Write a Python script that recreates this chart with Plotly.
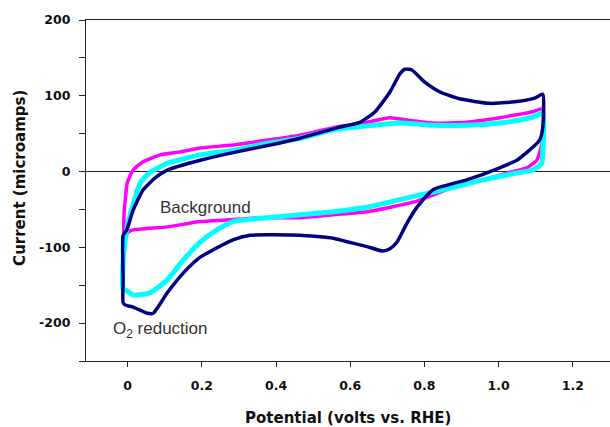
import plotly.graph_objects as go

# Navy curve (O2 reduction)
navy_x = [-0.012, -0.002, 0.015, 0.042, 0.075, 0.107, 0.196, 0.284, 0.384, 0.465, 0.567, 0.626, 0.667, 0.707, 0.734, 0.747, 0.766, 0.801, 0.842, 0.895, 0.976, 1.043, 1.097, 1.119,
          1.119, 1.111, 1.092, 1.049, 1.003, 0.914, 0.823, 0.780, 0.753, 0.726, 0.707, 0.688, 0.645, 0.586, 0.554, 0.465, 0.330, 0.284, 0.196, 0.150, 0.107, 0.069, 0.053, 0.015, -0.006, -0.012, -0.012, -0.012]
navy_y = [-84, -77, -51, -24, -8, 2, 15, 25, 35, 44, 58, 65, 79, 105, 129, 135, 134, 118, 105, 96, 90, 92, 97, 102,
          59, 42, 32, 15, 5, -11, -24, -47, -68, -93, -102, -105, -99, -92, -88, -84, -84, -90, -113, -134, -160, -187, -187, -179, -176, -173, -143, -84]

# Magenta curve (background)
mag_x = [-0.009, -0.009, -0.006, -0.001, 0.015, 0.042, 0.088, 0.142, 0.196, 0.284, 0.384, 0.465, 0.554, 0.645, 0.707, 0.753, 0.823, 0.914, 1.003, 1.049, 1.092, 1.119,
         1.119, 1.111, 1.103, 1.076, 1.022, 0.958, 0.869, 0.823, 0.780, 0.699, 0.645, 0.554, 0.465, 0.357, 0.268, 0.196, 0.107, 0.015, 0.002, -0.009]
mag_y = [-86, -51, -37, -15, 2, 13, 22, 26, 31, 35, 42, 48, 58, 65, 71, 68, 64, 65, 71, 75, 79, 83,
         42, 26, 15, 5, -2, -11, -22, -31, -39, -48, -53, -57, -61, -61, -64, -66, -73, -77, -80, -86]

# Cyan curve
cyan_x = [-0.012, -0.012, -0.006, -0.001, 0.013, 0.034, 0.061, 0.107, 0.196, 0.284, 0.384, 0.465, 0.554, 0.662, 0.734, 0.823, 0.914, 1.003, 1.057, 1.092, 1.119,
          1.119, 1.116, 1.092, 1.049, 0.958, 0.869, 0.823, 0.734, 0.645, 0.554, 0.465, 0.376, 0.284, 0.241, 0.196, 0.150, 0.107, 0.061, 0.015, -0.006, -0.012]
cyan_y = [-156, -117, -90, -73, -47, -15, -1, 11, 22, 28, 38, 44, 55, 61, 64, 61, 61, 64, 68, 72, 77,
          28, 11, 2, -2, -11, -22, -27, -37, -47, -53, -57, -61, -66, -77, -93, -117, -143, -160, -163, -156, -156]

x_ticks = [0, 0.2, 0.4, 0.6, 0.8, 1.0, 1.2]
x_labels = ["0", "0.2", "0.4", "0.6", "0.8", "1.0", "1.2"]
y_ticks = [-200, -100, 0, 100, 200]
y_labels = ["-200", "-100", "0", "100", "200"]

fig = go.Figure()
fig.add_trace(go.Scatter(x=mag_x, y=mag_y, mode="lines", line=dict(color="#FF00FF", width=3.5, shape="spline", smoothing=0.5), showlegend=False))
fig.add_trace(go.Scatter(x=cyan_x, y=cyan_y, mode="lines", line=dict(color="#00FFFF", width=5, shape="spline", smoothing=0.5), showlegend=False))
fig.add_trace(go.Scatter(x=navy_x, y=navy_y, mode="lines", line=dict(color="#000080", width=3.5, shape="spline", smoothing=0.5), showlegend=False))

fig.add_annotation(x=0.209, y=-48, text="Background", showarrow=False,
                   font=dict(family="Liberation Sans, Arial", size=17, color="#333333"))
fig.add_annotation(x=0.088, y=-209, text="O<sub>2</sub> reduction", showarrow=False,
                   font=dict(family="Liberation Sans, Arial", size=17, color="#333333"))

tickfont = dict(family="DejaVu Sans", size=12.5, color="#111111", weight="bold")
titlefont = dict(family="DejaVu Sans", size=15, color="#111111", weight="bold")

# axis titles as paper-anchored annotations
fig.add_annotation(xref="paper", yref="paper", x=0.5, y=0, yshift=-57, xanchor="center", yanchor="middle",
                   text="Potential (volts vs. RHE)", showarrow=False, font=titlefont)
fig.add_annotation(xref="paper", yref="paper", x=0, y=0.537, xshift=-66, xanchor="center", yanchor="middle",
                   text="Current (microamps)", textangle=-90, showarrow=False, font=titlefont)

fig.update_layout(
    width=610, height=427,
    margin=dict(l=86, r=0, t=20, b=66, autoexpand=False),
    paper_bgcolor="white", plot_bgcolor="white",
    xaxis=dict(range=[-0.112, 1.30], tickvals=x_ticks, ticktext=x_labels, automargin=False,
               showgrid=False, zeroline=False, showline=True, linecolor="#222222", linewidth=1.2,
               mirror=True, ticks="outside", ticklen=5, tickcolor="#222222",
               tickfont=tickfont, ticklabelstandoff=8),
    yaxis=dict(range=[-250, 200], tickvals=y_ticks, ticktext=y_labels, automargin=False,
               showgrid=False, zeroline=True, zerolinecolor="#222222", zerolinewidth=1,
               showline=True, linecolor="#222222", linewidth=1.2,
               ticks="outside", ticklen=6, tickcolor="#222222",
               minor=dict(dtick=50, tick0=0, ticks="outside", ticklen=6, tickcolor="#222222", showgrid=False),
               tickfont=tickfont, ticklabelstandoff=6),
)

fig.write_html("out.html", config={"displayModeBar": False},
               post_script="document.body.style.margin='0';document.body.style.overflow='hidden';")
